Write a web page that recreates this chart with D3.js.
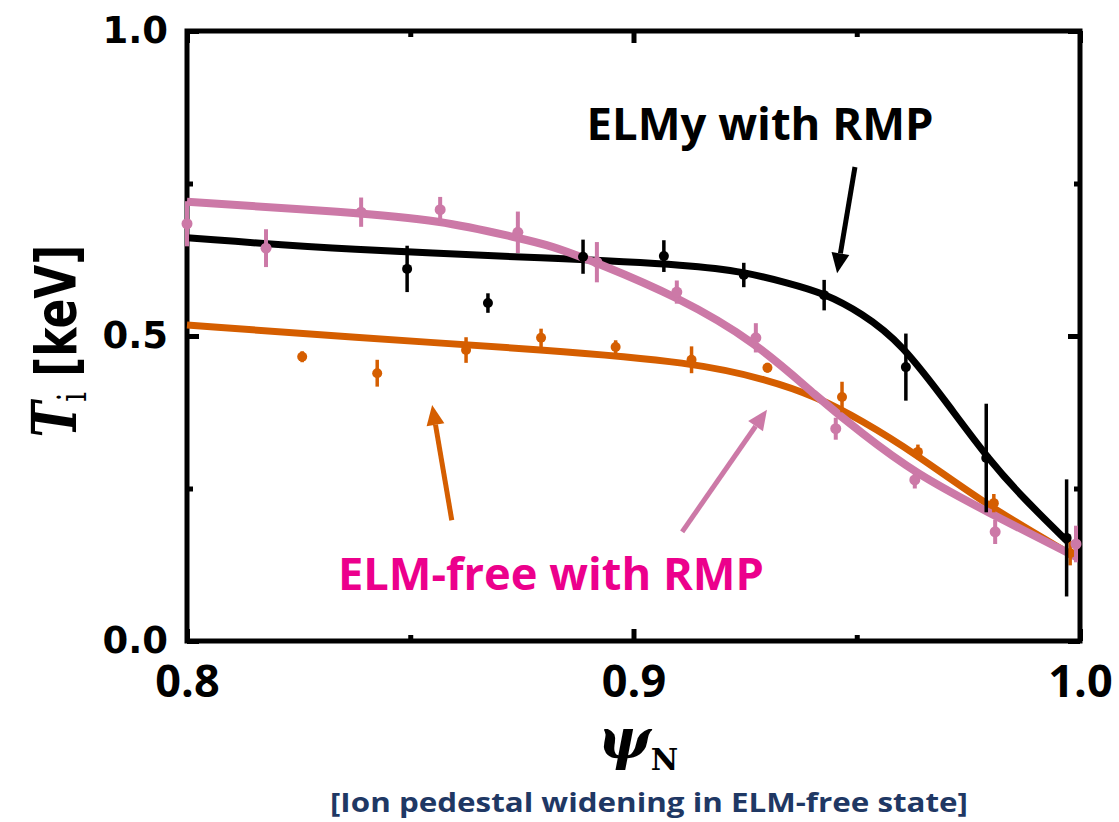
<!DOCTYPE html>
<html>
<head>
<meta charset="utf-8">
<script src="https://cdn.jsdelivr.net/npm/d3@7"></script>
<style>
  body { margin: 0; background: #fff; }
</style>
</head>
<body>
<div id="chart"></div>
<script>
// ---- data: [psiN, Ti (keV), error] ----
const elmyPoints = [
  [0.8493, 0.610, 0.038], [0.8674, 0.554, 0.016], [0.8887, 0.630, 0.028],
  [0.9068, 0.631, 0.026], [0.9247, 0.600, 0.020], [0.9427, 0.567, 0.025],
  [0.9610, 0.449, 0.055], [0.9790, 0.300, 0.089], [0.9970, 0.169, 0.096]
];
const freePoints = [
  [0.8000, 0.684, 0.037], [0.8177, 0.644, 0.031], [0.8390, 0.703, 0.024],
  [0.8567, 0.707, 0.021], [0.8741, 0.670, 0.034], [0.8918, 0.621, 0.033],
  [0.9097, 0.572, 0.019], [0.9274, 0.497, 0.024], [0.9453, 0.348, 0.018],
  [0.9630, 0.264, 0.014], [0.9810, 0.179, 0.020], [0.9991, 0.159, 0.030]
];
const orangePoints = [
  [0.8258, 0.466, 0.009], [0.8426, 0.439, 0.022], [0.8625, 0.477, 0.021],
  [0.8793, 0.497, 0.015], [0.8960, 0.482, 0.011], [0.9130, 0.461, 0.022],
  [0.9300, 0.448, 0.008], [0.9467, 0.400, 0.025], [0.9637, 0.310, 0.012],
  [0.9807, 0.226, 0.015], [0.9978, 0.144, 0.020]
];

// fitted profiles: [psiN, Ti]
const elmyFit = [
  [0.800, 0.661], [0.8363, 0.641], [0.8813, 0.628], [0.914, 0.616],
  [0.9247, 0.605], [0.9346, 0.587], [0.9427, 0.570], [0.951, 0.538],
  [0.960, 0.489], [0.9713, 0.379], [0.9796, 0.297], [0.9877, 0.231], [0.9975, 0.161]
];
const freeFit = [
  [0.800, 0.720], [0.8363, 0.703], [0.8567, 0.690], [0.8739, 0.661],
  [0.8813, 0.649], [0.8918, 0.620], [0.910, 0.564], [0.9274, 0.490],
  [0.9411, 0.400], [0.951, 0.341], [0.963, 0.275], [0.9796, 0.210], [0.9991, 0.138]
];
const orangeFit = [
  [0.800, 0.518], [0.8363, 0.498], [0.8813, 0.477], [0.9133, 0.457],
  [0.9303, 0.428], [0.9411, 0.400], [0.951, 0.362], [0.963, 0.308],
  [0.9796, 0.220], [0.9975, 0.144]
];

const xMajor = [0.8, 0.9, 1.0];
const xMinor = [0.85, 0.95];
const yMajor = [0.0, 0.5, 1.0];
const yMinor = [0.25, 0.75];

// annotations in data units
const arrows = [
  { from: [0.9496, 0.777], to: [0.9456, 0.603], color: "#000000" },
  { from: [0.8593, 0.198], to: [0.8549, 0.387], color: "#D55E00" },
  { from: [0.9109, 0.179], to: [0.9299, 0.379], color: "#CC79A7" }
];

// ---- layout ----
const margin = { top: 31, right: 39, bottom: 181, left: 187 };
const W = 1119, H = 822;
const width = W - margin.left - margin.right,
      height = H - margin.top - margin.bottom;

const svg = d3.select("#chart").append("svg")
    .attr("width", W)
    .attr("height", H);

const g = svg.append("g")
    .attr("transform", `translate(${margin.left},${margin.top})`);

const x = d3.scaleLinear().domain([0.8, 1.0]).range([0, width]);
const y = d3.scaleLinear().domain([0, 1.0]).range([height, 0]);

const black = "#000000", orange = "#D55E00", pink = "#CC79A7";

// axes: ticks pointing inward
function styleTicks(sel, w) {
  sel.select(".domain").remove();
  sel.selectAll(".tick line").attr("stroke", "#000").attr("stroke-width", w);
}

g.append("g").attr("transform", `translate(0,${height})`)
  .call(d3.axisBottom(x).tickValues(xMajor).tickSizeInner(-12).tickSizeOuter(0)
        .tickPadding(24).tickFormat(d3.format(".1f")))
  .call(s => styleTicks(s, 5))
  .call(s => s.selectAll("text")
      .attr("fill", "#000")
      .attr("font-family", "'Open Sans', sans-serif")
      .attr("font-weight", 700)
      .attr("font-size", 45));

g.append("g").attr("transform", `translate(0,${height})`)
  .call(d3.axisBottom(x).tickValues(xMinor).tickSizeInner(-6).tickSizeOuter(0).tickFormat(""))
  .call(s => styleTicks(s, 5));

g.append("g")
  .call(d3.axisTop(x).tickValues(xMajor).tickSizeInner(-12).tickSizeOuter(0).tickFormat(""))
  .call(s => styleTicks(s, 5));
g.append("g")
  .call(d3.axisTop(x).tickValues(xMinor).tickSizeInner(-6).tickSizeOuter(0).tickFormat(""))
  .call(s => styleTicks(s, 5));

g.append("g")
  .call(d3.axisLeft(y).tickValues(yMajor).tickSizeInner(-12).tickSizeOuter(0)
        .tickPadding(19).tickFormat(d3.format(".1f")))
  .call(s => styleTicks(s, 5))
  .call(s => s.selectAll("text")
      .attr("fill", "#000")
      .attr("font-family", "'DejaVu Sans', Verdana, sans-serif")
      .attr("font-weight", 700)
      .attr("font-size", 37));
g.append("g")
  .call(d3.axisLeft(y).tickValues(yMinor).tickSizeInner(-6).tickSizeOuter(0).tickFormat(""))
  .call(s => styleTicks(s, 5));

g.append("g").attr("transform", `translate(${width},0)`)
  .call(d3.axisRight(y).tickValues(yMajor).tickSizeInner(-12).tickSizeOuter(0).tickFormat(""))
  .call(s => styleTicks(s, 5));
g.append("g").attr("transform", `translate(${width},0)`)
  .call(d3.axisRight(y).tickValues(yMinor).tickSizeInner(-6).tickSizeOuter(0).tickFormat(""))
  .call(s => styleTicks(s, 5));

// frame
g.append("rect")
  .attr("x", 0).attr("y", 0)
  .attr("width", width).attr("height", height)
  .attr("fill", "none").attr("stroke", "#000").attr("stroke-width", 5);

// fit curves
const line = d3.line()
  .x(d => x(d[0]))
  .y(d => y(d[1]))
  .curve(d3.curveBasis);

g.append("path").datum(elmyFit).attr("d", line)
  .attr("fill", "none").attr("stroke", black).attr("stroke-width", 7);
g.append("path").datum(orangeFit).attr("d", line)
  .attr("fill", "none").attr("stroke", orange).attr("stroke-width", 7);
g.append("path").datum(freeFit).attr("d", line)
  .attr("fill", "none").attr("stroke", pink).attr("stroke-width", 8);

// measured points with error bars
function drawPoints(data, color, r, ew) {
  const pg = g.append("g");
  pg.selectAll("line").data(data).join("line")
    .attr("x1", d => x(d[0])).attr("x2", d => x(d[0]))
    .attr("y1", d => y(d[1] - d[2])).attr("y2", d => y(d[1] + d[2]))
    .attr("stroke", color).attr("stroke-width", ew);
  pg.selectAll("circle").data(data).join("circle")
    .attr("cx", d => x(d[0])).attr("cy", d => y(d[1]))
    .attr("r", r).attr("fill", color);
}
drawPoints(orangePoints, orange, 5, 3.5);
drawPoints(freePoints, pink, 5.5, 4);
drawPoints(elmyPoints, black, 5, 3.5);

// arrows
arrows.forEach(a => {
  const x1 = x(a.from[0]), y1 = y(a.from[1]);
  const x2 = x(a.to[0]), y2 = y(a.to[1]);
  const ang = Math.atan2(y2 - y1, x2 - x1);
  const hl = 20, hw = 9;
  const bx = x2 - hl * Math.cos(ang), by = y2 - hl * Math.sin(ang);
  g.append("line")
    .attr("x1", x1).attr("y1", y1).attr("x2", bx).attr("y2", by)
    .attr("stroke", a.color).attr("stroke-width", 5);
  g.append("path")
    .attr("d", `M${x2},${y2}L${bx + hw * Math.sin(ang)},${by - hw * Math.cos(ang)}L${bx - hw * Math.sin(ang)},${by + hw * Math.cos(ang)}Z`)
    .attr("fill", a.color);
});

// annotation labels
g.append("text")
  .attr("x", x(0.8895)).attr("y", y(0.821))
  .attr("font-family", "'Open Sans', sans-serif").attr("font-weight", 700)
  .attr("font-size", 44).attr("fill", "#000")
  .attr("textLength", 347).attr("lengthAdjust", "spacingAndGlyphs")
  .text("ELMy with RMP");

g.append("text")
  .attr("x", x(0.8338)).attr("y", y(0.0836))
  .attr("font-family", "'Open Sans', sans-serif").attr("font-weight", 700)
  .attr("font-size", 44).attr("fill", "#EC008C")
  .attr("textLength", 426).attr("lengthAdjust", "spacingAndGlyphs")
  .text("ELM-free with RMP");

// y axis title
const yt = svg.append("text")
  .attr("transform", "translate(76,341) scale(1.3,1) rotate(-90)")
  .attr("text-anchor", "middle")
  .attr("fill", "#000");
yt.append("tspan")
  .attr("font-family", "'DejaVu Serif', serif").attr("font-style", "italic")
  .attr("font-weight", 700).attr("font-size", 48)
  .text("T");
yt.append("tspan")
  .attr("font-family", "'DejaVu Serif', serif").attr("font-size", 30)
  .attr("dy", 8)
  .text("i");
yt.append("tspan")
  .attr("font-family", "'DejaVu Sans', Verdana, sans-serif").attr("font-weight", 700)
  .attr("font-size", 44).attr("dy", -8)
  .text(" [keV]");

// x axis title
const xt = svg.append("text")
  .attr("x", 638).attr("y", 758)
  .attr("text-anchor", "middle")
  .attr("fill", "#000");
xt.append("tspan")
  .attr("font-family", "'DejaVu Serif', serif").attr("font-style", "italic")
  .attr("font-weight", 700).attr("font-size", 56)
  .text("ψ");
xt.append("tspan")
  .attr("font-family", "'DejaVu Serif', serif").attr("font-weight", 700)
  .attr("font-size", 30).attr("dy", 12)
  .text("N");

// caption
svg.append("text")
  .attr("x", 649).attr("y", 812)
  .attr("text-anchor", "middle")
  .attr("font-family", "'Open Sans', sans-serif").attr("font-weight", 700)
  .attr("font-size", 27).attr("fill", "#1F3864")
  .attr("textLength", 638).attr("lengthAdjust", "spacingAndGlyphs")
  .text("[Ion pedestal widening in ELM-free state]");
</script>
</body>
</html>
